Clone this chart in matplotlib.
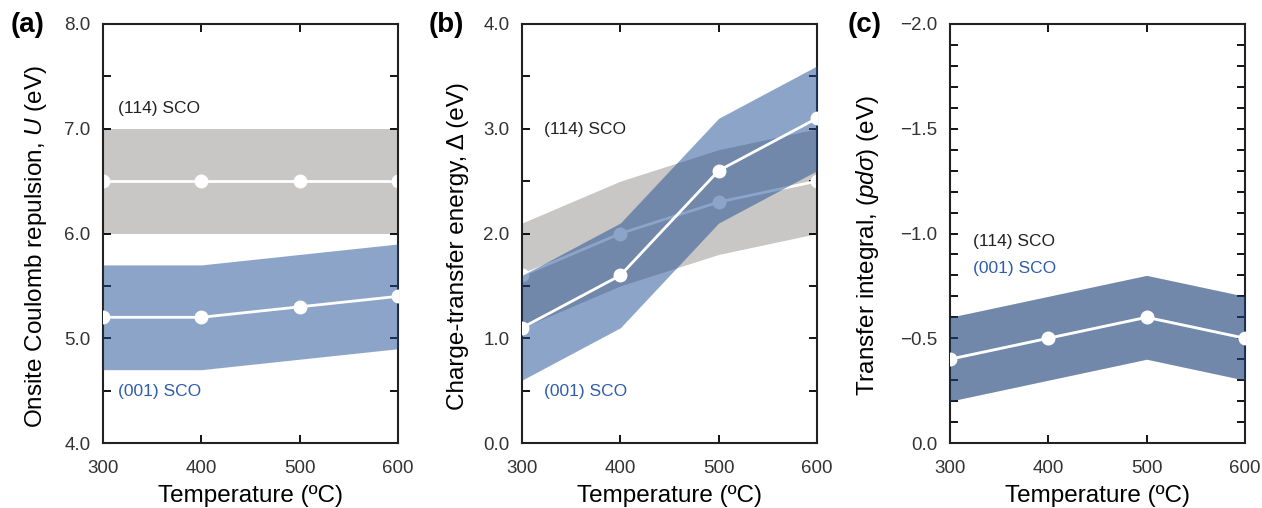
import numpy as np
import matplotlib.pyplot as plt

plt.rcParams['font.family'] = ['Liberation Sans', 'DejaVu Sans']
plt.rcParams['mathtext.fontset'] = 'custom'
plt.rcParams['mathtext.rm'] = 'Liberation Sans'
plt.rcParams['mathtext.it'] = 'Liberation Sans:italic'

temps = [300, 400, 500, 600]

# (a) onsite Coulomb repulsion U
u_114 = [6.5, 6.5, 6.5, 6.5]
u_114_lo = [6.0, 6.0, 6.0, 6.0]
u_114_hi = [7.0, 7.0, 7.0, 7.0]
u_001 = [5.2, 5.2, 5.3, 5.4]
u_001_lo = [4.7, 4.7, 4.8, 4.9]
u_001_hi = [5.7, 5.7, 5.8, 5.9]

# (b) charge-transfer energy
d_114 = [1.6, 2.0, 2.3, 2.5]
d_114_lo = [1.1, 1.5, 1.8, 2.0]
d_114_hi = [2.1, 2.5, 2.8, 3.0]
d_001 = [1.1, 1.6, 2.6, 3.1]
d_001_lo = [0.6, 1.1, 2.1, 2.6]
d_001_hi = [1.6, 2.1, 3.1, 3.6]

# (c) transfer integral (same for both films)
t_114 = [-0.4, -0.5, -0.6, -0.5]
t_114_lo = [-0.2, -0.3, -0.4, -0.3]
t_114_hi = [-0.6, -0.7, -0.8, -0.7]
t_001 = [-0.4, -0.5, -0.6, -0.5]
t_001_lo = [-0.2, -0.3, -0.4, -0.3]
t_001_hi = [-0.6, -0.7, -0.8, -0.7]

gray = '#c8c7c5'
blue = '#1b4b93'
blue_txt = '#2f5dab'
tick_col = '#333333'

fig = plt.figure(figsize=(12.62, 5.08), dpi=100)
W, H = 1262, 508
boxes = [(103, 398), (522, 817), (950, 1245)]
top, bot = 24, 443
axes = [fig.add_axes([l / W, 1 - bot / H, (r - l) / W, (bot - top) / H]) for l, r in boxes]


def draw(ax, lo1, hi1, c1, lo2, hi2, c2):
    ax.fill_between(temps, lo1, hi1, color=gray, lw=0, zorder=1)
    ax.plot(temps, c1, color='white', lw=2, marker='o', ms=9, zorder=2)
    ax.fill_between(temps, lo2, hi2, color=blue, alpha=0.5, lw=0, zorder=3)
    ax.plot(temps, c2, color='white', lw=2, marker='o', ms=9, zorder=4)


def style(ax, ylim, major, minor):
    ax.set_xlim(300, 600)
    ax.set_ylim(*ylim)
    ax.set_xticks(temps)
    ax.set_yticks(major)
    ax.set_yticks(minor, minor=True)
    ax.tick_params(which='both', direction='in', top=True, right=True,
                   labelsize=13.5, labelcolor=tick_col, width=1.3, pad=9)
    ax.tick_params(which='major', length=6)
    ax.tick_params(which='minor', length=6)
    ax.tick_params(axis='x', pad=12)
    for s in ax.spines.values():
        s.set_linewidth(1.5)
        s.set_color('#222222')
    ax.set_xlabel('Temperature (ºC)', fontsize=17.5, labelpad=6)


ax = axes[0]
draw(ax, u_114_lo, u_114_hi, u_114, u_001_lo, u_001_hi, u_001)
style(ax, (4.0, 8.0), np.arange(4.0, 8.01, 1.0), np.arange(4.5, 8.0, 1.0))
ax.set_yticklabels([f'{v:.1f}' for v in np.arange(4.0, 8.01, 1.0)])
ax.set_ylabel('Onsite Coulomb repulsion, $\\mathit{U}$ (eV)', fontsize=17.5)
ax.yaxis.set_label_coords(-0.183, 0.47)
ax.text(315, 7.15, '(114) SCO', fontsize=12.5, color='#222222')
ax.text(315, 4.45, '(001) SCO', fontsize=12.5, color=blue_txt)

ax = axes[1]
draw(ax, d_114_lo, d_114_hi, d_114, d_001_lo, d_001_hi, d_001)
style(ax, (0.0, 4.0), np.arange(0.0, 4.01, 1.0), np.arange(0.5, 4.0, 1.0))
ax.set_yticklabels([f'{v:.1f}' for v in np.arange(0.0, 4.01, 1.0)])
ax.set_ylabel('Charge-transfer energy, Δ (eV)', fontsize=17.5)
ax.yaxis.set_label_coords(-0.18, 0.47)
ax.text(322, 2.95, '(114) SCO', fontsize=12.5, color='#222222')
ax.text(322, 0.45, '(001) SCO', fontsize=12.5, color=blue_txt)

ax = axes[2]
draw(ax, t_114_lo, t_114_hi, t_114, t_001_lo, t_001_hi, t_001)
style(ax, (0.0, -2.0), np.arange(0.0, -2.01, -0.5), np.arange(0.0, -2.01, -0.1))
ax.set_yticklabels(['0.0', '\u22120.5', '\u22121.0', '\u22121.5', '\u22122.0'])
ax.set_ylabel('Transfer integral, ($\\mathit{pd\\sigma}$) (eV)', fontsize=17.5)
ax.yaxis.set_label_coords(-0.234, 0.47)
ax.text(323, -0.94, '(114) SCO', fontsize=12.5, color='#222222')
ax.text(323, -0.81, '(001) SCO', fontsize=12.5, color=blue_txt)

for x, lab in [(11, '(a)'), (429, '(b)'), (848, '(c)')]:
    fig.text(x / W, 1 - 12 / H, lab, fontsize=20, fontweight='bold', va='top')

fig.savefig('out.png', dpi=100)
